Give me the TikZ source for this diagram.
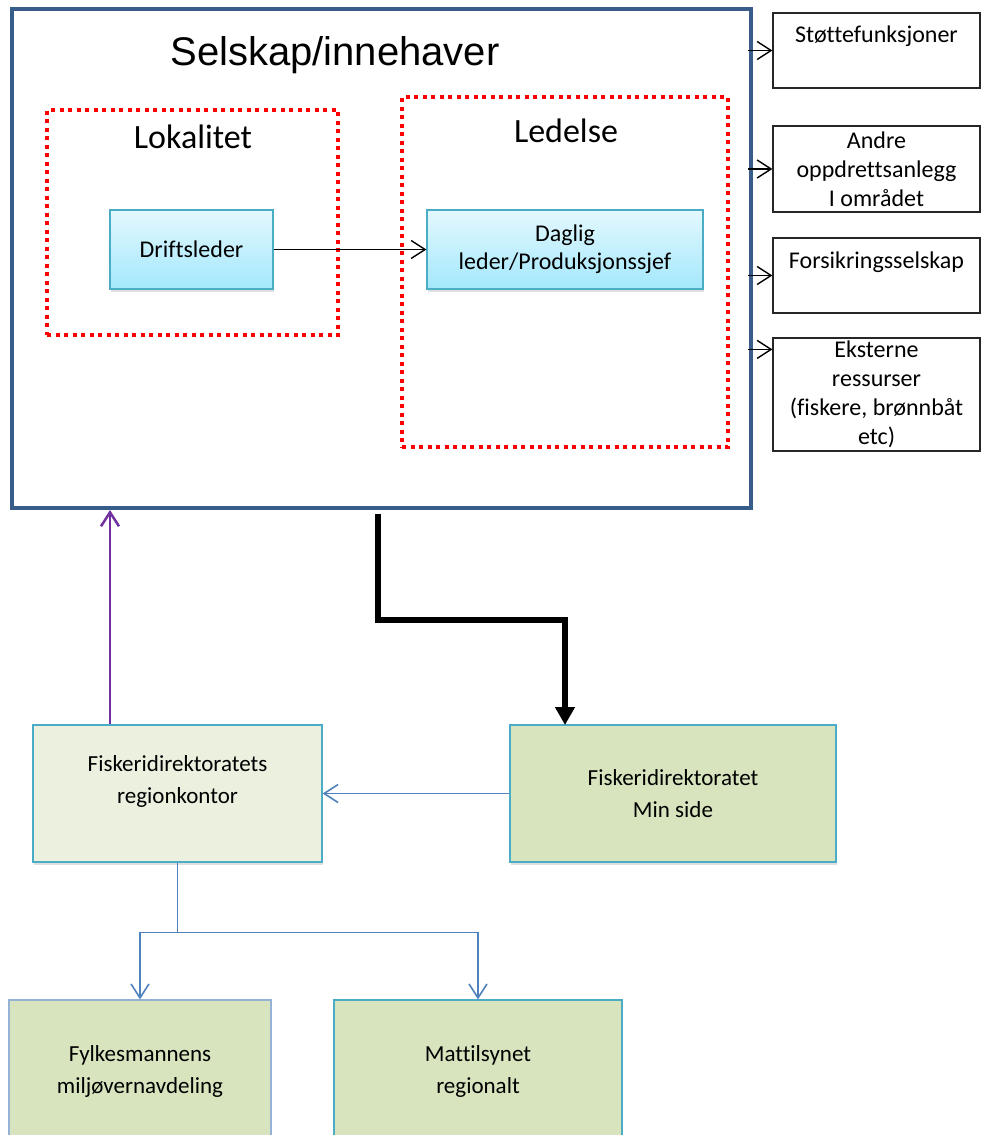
\documentclass[tikz,border=0pt]{standalone}
\usepackage{fontspec}
\setmainfont[Ligatures=NoCommon]{Carlito}
\newfontfamily\arialfont{Liberation Sans}
\usetikzlibrary{arrows.meta,shadows}

\definecolor{framecol}{RGB}{56,93,138}
\definecolor{rolecol}{RGB}{75,172,198}
\definecolor{roletop}{RGB}{228,248,254}
\definecolor{rolebot}{RGB}{163,232,252}
\definecolor{officefill}{RGB}{235,241,222}
\definecolor{agencyfill}{RGB}{215,228,189}
\definecolor{fylkecol}{RGB}{149,179,215}
\definecolor{linkblue}{RGB}{79,129,189}
\definecolor{linkpurple}{RGB}{112,48,160}

\begin{document}
\begin{tikzpicture}[x=1pt,y=-1pt,
zone/.style={
rectangle,
draw=red,
line width=3.5pt,
dash pattern=on 4pt off 4.5pt,
inner sep=0pt
},
role/.style={
rectangle,
draw=rolecol,
line width=1.2pt,
top color=roletop,
bottom color=rolebot,
inner sep=0pt,
minimum height=79pt,
align=center,
font=\fontsize{24}{28}\selectfont,
drop shadow={shadow xshift=1pt,shadow yshift=-3pt,opacity=.25}
},
party/.style={
rectangle,
draw=black!85,
line width=1.2pt,
minimum width=207pt,
inner sep=0pt,
align=center,
font=\fontsize{24}{29}\selectfont
},
agency/.style={
rectangle,
draw=rolecol,
line width=1.2pt,
fill=agencyfill,
inner sep=0pt,
align=center,
font=\fontsize{23}{32}\selectfont,
drop shadow={shadow xshift=1pt,shadow yshift=-3pt,opacity=.25}
},
lbl/.style={inner sep=0pt,align=center,font=\fontsize{24}{29}\selectfont},
link/.style={-{Straight Barb[length=14pt,width=18pt]},line width=1.4pt},
]
\useasboundingbox (0,0) rectangle (981,1135);
\clip (0,0) rectangle (981,1135);

% company frame
\node (firm) [rectangle,draw=framecol,line width=4pt,minimum width=739pt,minimum height=499pt,inner sep=0pt] at (381.5,258.5) {};
\node (title) [font=\arialfont\fontsize{40}{48}\selectfont] at (335,55) {Selskap/innehaver};

\node (lok) [zone,minimum width=291pt,minimum height=225pt] at (192.5,222.5) {};
\node (lokname) [font=\fontsize{34}{40}\selectfont] at (193,137) {Lokalitet};
\node (drift) [role,minimum width=163pt] at (191.5,249.5) {Driftsleder};

\node (led) [zone,minimum width=326pt,minimum height=350pt] at (565,272) {};
\node (ledname) [font=\fontsize{34}{40}\selectfont] at (566,131) {Ledelse};
\node (daglig) [role,minimum width=276pt,right of=drift,node distance=373.5pt] {Daglig\\leder/Produksjonssjef};

\draw[link,black] (drift) -- (daglig);

% outside parties
\node (stotte) [party,minimum height=75pt,label={[lbl,anchor=base,yshift=-30pt]north:Støttefunksjoner}] at (876.5,50.5) {};
\node (andre) [party,minimum height=86pt] at (876.5,169) {Andre\\oppdrettsanlegg\\I området};
\node (forsikring) [party,minimum height=75pt,label={[lbl,anchor=base,yshift=-31pt]north:Forsikringsselskap}] at (876.5,275.5) {};
\node (eksterne) [party,minimum height=113pt] at (876.5,394.5) {Eksterne\\ressurser\\(fiskere, brønnbåt\\etc)};

\coordinate (rim) at (748,0);
\coordinate (ekin) at ([yshift=-12pt]eksterne.north west);
\draw[link,black] (rim |- stotte.west) -- (stotte.west);
\draw[link,black] (rim |- andre.west) -- (andre.west);
\draw[link,black] (rim |- forsikring.west) -- (forsikring.west);
\draw[link,black] (rim |- ekin) -- (ekin);

% authorities
\node (region) [agency,fill=officefill,minimum width=289pt,minimum height=137pt,label={[lbl,font=\fontsize{23}{32}\selectfont,yshift=12pt]center:Fiskeridirektoratets\\regionkontor}] at (177.5,793.5) {};
\node (minside) [agency,minimum width=326pt,minimum height=137pt] at (673,793.5) {Fiskeridirektoratet\\Min side};
\node (fylke) [agency,draw=fylkecol,minimum width=262pt,minimum height=142pt] at (140,1071) {Fylkesmannens\\miljøvernavdeling};
\node (matt) [agency,minimum width=288pt,minimum height=142pt] at (478,1071) {Mattilsynet\\regionalt};

\coordinate (out) at (378,514);
\coordinate (minin) at (565,725);
\draw[line width=6pt,line join=miter,-{Triangle[width=19pt,length=18pt]}] (out) -- ++(0,106) -| (minin);

\coordinate (up) at ([xshift=-67.5pt]region.north);
\draw[link,linkpurple,line width=2.5pt] (up) -- (up |- firm.south);

\draw[link,linkblue,line width=1.6pt] (minside.west) -- (region.east);
\draw[linkblue,line width=1.6pt] (region.south) -- ++(0,70) coordinate (split);
\draw[link,linkblue,line width=1.6pt] (split) -| (fylke.north);
\draw[link,linkblue,line width=1.6pt] (split) -| (matt.north);
\end{tikzpicture}
\end{document}
